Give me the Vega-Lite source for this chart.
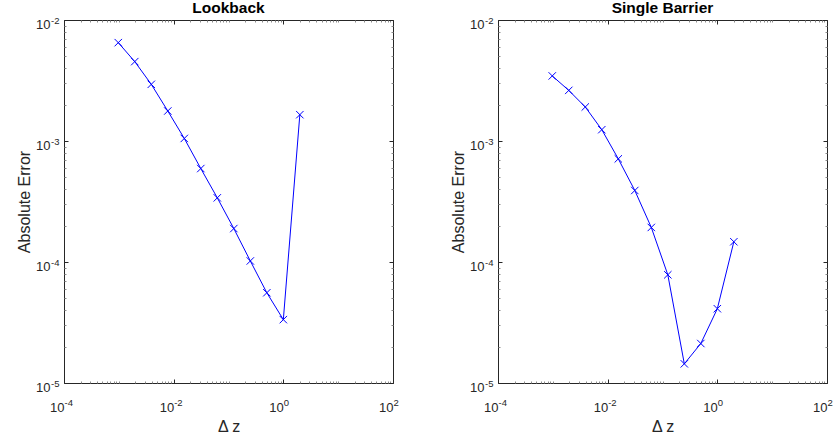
{
  "$schema": "https://vega.github.io/schema/vega-lite/v6.json",
  "background": "white",
  "padding": {"left": 16, "top": 0, "right": 0, "bottom": 0},
  "spacing": 51,
  "data": {"values": [
    {"panel": "Lookback", "dz": 0.0009765625, "err": 0.0065},
    {"panel": "Lookback", "dz": 0.001953125, "err": 0.00453},
    {"panel": "Lookback", "dz": 0.00390625, "err": 0.00294},
    {"panel": "Lookback", "dz": 0.0078125, "err": 0.00177},
    {"panel": "Lookback", "dz": 0.015625, "err": 0.00105},
    {"panel": "Lookback", "dz": 0.03125, "err": 0.000592},
    {"panel": "Lookback", "dz": 0.0625, "err": 0.000339},
    {"panel": "Lookback", "dz": 0.125, "err": 0.000189},
    {"panel": "Lookback", "dz": 0.25, "err": 0.000102},
    {"panel": "Lookback", "dz": 0.5, "err": 0.0000557},
    {"panel": "Lookback", "dz": 1, "err": 0.0000334},
    {"panel": "Lookback", "dz": 2, "err": 0.00165},
    {"panel": "Single Barrier", "dz": 0.0009765625, "err": 0.00345},
    {"panel": "Single Barrier", "dz": 0.001953125, "err": 0.00262},
    {"panel": "Single Barrier", "dz": 0.00390625, "err": 0.00191},
    {"panel": "Single Barrier", "dz": 0.0078125, "err": 0.00124},
    {"panel": "Single Barrier", "dz": 0.015625, "err": 0.000712},
    {"panel": "Single Barrier", "dz": 0.03125, "err": 0.00039},
    {"panel": "Single Barrier", "dz": 0.0625, "err": 0.000193},
    {"panel": "Single Barrier", "dz": 0.125, "err": 0.0000784},
    {"panel": "Single Barrier", "dz": 0.25, "err": 0.0000144},
    {"panel": "Single Barrier", "dz": 0.5, "err": 0.0000212},
    {"panel": "Single Barrier", "dz": 1, "err": 0.0000411},
    {"panel": "Single Barrier", "dz": 2, "err": 0.000147}
  ]},
  "config": {
    "font": "Liberation Sans",
    "view": {"stroke": "#262626", "strokeWidth": 1},
    "axis": {
      "grid": false,
      "domain": false,
      "labelOverlap": false,
      "labelFlush": false,
      "labelBound": false,
      "tickColor": "#262626",
      "labelColor": "#262626",
      "titleColor": "#262626",
      "labelFont": "Liberation Sans",
      "titleFont": "Liberation Sans",
      "labelFontSize": 13,
      "titleFontSize": 16,
      "titleFontWeight": "normal"
    },
    "title": {"font": "Liberation Sans", "fontSize": 15.5, "fontWeight": "bold", "color": "black", "baseline": "alphabetic", "offset": -1}
  },
  "hconcat": [
    {
      "title": "Lookback",
      "width": 329,
      "height": 363,
      "transform": [{"filter": "datum.panel == 'Lookback'"}],
      "resolve": {"axis": {"x": "independent", "y": "independent"}},
      "layer": [
        {
          "mark": {"type": "line", "color": "#0000FF", "strokeWidth": 1},
          "encoding": {
            "x": {"field": "dz", "type": "quantitative", "scale": {"type": "log", "domain": [0.0001, 100], "nice": false},
                  "axis": {"orient": "bottom", "title": "Δ z", "titlePadding": 4, "ticks": false,
                           "values": [0.0001, 0.01, 1, 100],
                           "labelAlign": "right", "labelBaseline": "alphabetic", "labelPadding": 28, "labelExpr": "'10'"}},
            "y": {"field": "err", "type": "quantitative", "scale": {"type": "log", "domain": [0.00001, 0.01], "nice": false},
                  "axis": {"orient": "left", "title": "Absolute Error", "titlePadding": 3, "ticks": false,
                           "values": [0.00001, 0.0001, 0.001, 0.01],
                           "labelAlign": "right", "labelBaseline": "alphabetic", "labelPadding": 14, "labelOffset": 8.5, "labelExpr": "'10'"}}
          }
        },
        {
          "mark": {"type": "point", "shape": "M-1,-1L1,1M-1,1L1,-1", "filled": false, "color": "#0000FF", "size": 55, "strokeWidth": 1, "opacity": 1},
          "encoding": {
            "x": {"field": "dz", "type": "quantitative",
                  "axis": {"orient": "bottom", "title": null, "ticks": false, "values": [0.0001, 0.01, 1, 100],
                           "labelAlign": "left", "labelBaseline": "alphabetic", "labelPadding": 22, "labelFontSize": 9.5,
                           "labelExpr": "'' + round(log(datum.value)/LN10)"}},
            "y": {"field": "err", "type": "quantitative",
                  "axis": {"orient": "left", "title": null, "ticks": false, "values": [0.00001, 0.0001, 0.001, 0.01],
                           "labelAlign": "right", "labelBaseline": "alphabetic", "labelPadding": 5, "labelOffset": 3.5, "labelFontSize": 9.5,
                           "labelExpr": "'' + round(log(datum.value)/LN10)"}}
          }
        },
        {
          "mark": {"type": "line", "opacity": 0},
          "encoding": {
            "x": {"field": "dz", "type": "quantitative",
                  "axis": {"orient": "top", "title": null, "labels": false,
                           "values": [0.0001,0.0002,0.0003,0.0004,0.0005,0.0006,0.0007,0.0008,0.0009,0.001,0.002,0.003,0.004,0.005,0.006,0.007,0.008,0.009,0.01,0.02,0.03,0.04,0.05,0.06,0.07,0.08,0.09,0.1,0.2,0.3,0.4,0.5,0.6,0.7,0.8,0.9,1,2,3,4,5,6,7,8,9,10,20,30,40,50,60,70,80,90,100],
                           "tickSize": {"condition": {"test": "abs(log(datum.value)/LN10 - round(log(datum.value)/LN10)) < 0.001 && round(log(datum.value)/LN10) % 2 == 0", "value": -4}, "value": -2},
                           "tickColor": {"condition": {"test": "abs(log(datum.value)/LN10 - round(log(datum.value)/LN10)) < 0.001 && round(log(datum.value)/LN10) % 2 == 0", "value": "#262626"}, "value": "#8c8c8c"}}},
            "y": {"field": "err", "type": "quantitative",
                  "axis": {"orient": "right", "title": null, "labels": false,
                           "values": [0.00001,0.00002,0.00003,0.00004,0.00005,0.00006,0.00007,0.00008,0.00009,0.0001,0.0002,0.0003,0.0004,0.0005,0.0006,0.0007,0.0008,0.0009,0.001,0.002,0.003,0.004,0.005,0.006,0.007,0.008,0.009,0.01],
                           "tickSize": {"condition": {"test": "abs(log(datum.value)/LN10 - round(log(datum.value)/LN10)) < 0.001", "value": -4}, "value": -2},
                           "tickColor": {"condition": {"test": "abs(log(datum.value)/LN10 - round(log(datum.value)/LN10)) < 0.001", "value": "#262626"}, "value": "#8c8c8c"}}}
          }
        },
        {
          "mark": {"type": "line", "opacity": 0},
          "encoding": {
            "x": {"field": "dz", "type": "quantitative",
                  "axis": {"orient": "bottom", "title": null, "labels": false,
                           "values": [0.0001,0.0002,0.0003,0.0004,0.0005,0.0006,0.0007,0.0008,0.0009,0.001,0.002,0.003,0.004,0.005,0.006,0.007,0.008,0.009,0.01,0.02,0.03,0.04,0.05,0.06,0.07,0.08,0.09,0.1,0.2,0.3,0.4,0.5,0.6,0.7,0.8,0.9,1,2,3,4,5,6,7,8,9,10,20,30,40,50,60,70,80,90,100],
                           "tickSize": {"condition": {"test": "abs(log(datum.value)/LN10 - round(log(datum.value)/LN10)) < 0.001 && round(log(datum.value)/LN10) % 2 == 0", "value": -4}, "value": -2},
                           "tickColor": {"condition": {"test": "abs(log(datum.value)/LN10 - round(log(datum.value)/LN10)) < 0.001 && round(log(datum.value)/LN10) % 2 == 0", "value": "#262626"}, "value": "#8c8c8c"}}},
            "y": {"field": "err", "type": "quantitative",
                  "axis": {"orient": "left", "title": null, "labels": false,
                           "values": [0.00001,0.00002,0.00003,0.00004,0.00005,0.00006,0.00007,0.00008,0.00009,0.0001,0.0002,0.0003,0.0004,0.0005,0.0006,0.0007,0.0008,0.0009,0.001,0.002,0.003,0.004,0.005,0.006,0.007,0.008,0.009,0.01],
                           "tickSize": {"condition": {"test": "abs(log(datum.value)/LN10 - round(log(datum.value)/LN10)) < 0.001", "value": -4}, "value": -2},
                           "tickColor": {"condition": {"test": "abs(log(datum.value)/LN10 - round(log(datum.value)/LN10)) < 0.001", "value": "#262626"}, "value": "#8c8c8c"}}}
          }
        }
      ]
    },
    {
      "title": "Single Barrier",
      "width": 329,
      "height": 363,
      "transform": [{"filter": "datum.panel == 'Single Barrier'"}],
      "resolve": {"axis": {"x": "independent", "y": "independent"}},
      "layer": [
        {
          "mark": {"type": "line", "color": "#0000FF", "strokeWidth": 1},
          "encoding": {
            "x": {"field": "dz", "type": "quantitative", "scale": {"type": "log", "domain": [0.0001, 100], "nice": false},
                  "axis": {"orient": "bottom", "title": "Δ z", "titlePadding": 4, "ticks": false,
                           "values": [0.0001, 0.01, 1, 100],
                           "labelAlign": "right", "labelBaseline": "alphabetic", "labelPadding": 28, "labelExpr": "'10'"}},
            "y": {"field": "err", "type": "quantitative", "scale": {"type": "log", "domain": [0.00001, 0.01], "nice": false},
                  "axis": {"orient": "left", "title": "Absolute Error", "titlePadding": 3, "ticks": false,
                           "values": [0.00001, 0.0001, 0.001, 0.01],
                           "labelAlign": "right", "labelBaseline": "alphabetic", "labelPadding": 14, "labelOffset": 8.5, "labelExpr": "'10'"}}
          }
        },
        {
          "mark": {"type": "point", "shape": "M-1,-1L1,1M-1,1L1,-1", "filled": false, "color": "#0000FF", "size": 55, "strokeWidth": 1, "opacity": 1},
          "encoding": {
            "x": {"field": "dz", "type": "quantitative",
                  "axis": {"orient": "bottom", "title": null, "ticks": false, "values": [0.0001, 0.01, 1, 100],
                           "labelAlign": "left", "labelBaseline": "alphabetic", "labelPadding": 22, "labelFontSize": 9.5,
                           "labelExpr": "'' + round(log(datum.value)/LN10)"}},
            "y": {"field": "err", "type": "quantitative",
                  "axis": {"orient": "left", "title": null, "ticks": false, "values": [0.00001, 0.0001, 0.001, 0.01],
                           "labelAlign": "right", "labelBaseline": "alphabetic", "labelPadding": 5, "labelOffset": 3.5, "labelFontSize": 9.5,
                           "labelExpr": "'' + round(log(datum.value)/LN10)"}}
          }
        },
        {
          "mark": {"type": "line", "opacity": 0},
          "encoding": {
            "x": {"field": "dz", "type": "quantitative",
                  "axis": {"orient": "top", "title": null, "labels": false,
                           "values": [0.0001,0.0002,0.0003,0.0004,0.0005,0.0006,0.0007,0.0008,0.0009,0.001,0.002,0.003,0.004,0.005,0.006,0.007,0.008,0.009,0.01,0.02,0.03,0.04,0.05,0.06,0.07,0.08,0.09,0.1,0.2,0.3,0.4,0.5,0.6,0.7,0.8,0.9,1,2,3,4,5,6,7,8,9,10,20,30,40,50,60,70,80,90,100],
                           "tickSize": {"condition": {"test": "abs(log(datum.value)/LN10 - round(log(datum.value)/LN10)) < 0.001 && round(log(datum.value)/LN10) % 2 == 0", "value": -4}, "value": -2},
                           "tickColor": {"condition": {"test": "abs(log(datum.value)/LN10 - round(log(datum.value)/LN10)) < 0.001 && round(log(datum.value)/LN10) % 2 == 0", "value": "#262626"}, "value": "#8c8c8c"}}},
            "y": {"field": "err", "type": "quantitative",
                  "axis": {"orient": "right", "title": null, "labels": false,
                           "values": [0.00001,0.00002,0.00003,0.00004,0.00005,0.00006,0.00007,0.00008,0.00009,0.0001,0.0002,0.0003,0.0004,0.0005,0.0006,0.0007,0.0008,0.0009,0.001,0.002,0.003,0.004,0.005,0.006,0.007,0.008,0.009,0.01],
                           "tickSize": {"condition": {"test": "abs(log(datum.value)/LN10 - round(log(datum.value)/LN10)) < 0.001", "value": -4}, "value": -2},
                           "tickColor": {"condition": {"test": "abs(log(datum.value)/LN10 - round(log(datum.value)/LN10)) < 0.001", "value": "#262626"}, "value": "#8c8c8c"}}}
          }
        },
        {
          "mark": {"type": "line", "opacity": 0},
          "encoding": {
            "x": {"field": "dz", "type": "quantitative",
                  "axis": {"orient": "bottom", "title": null, "labels": false,
                           "values": [0.0001,0.0002,0.0003,0.0004,0.0005,0.0006,0.0007,0.0008,0.0009,0.001,0.002,0.003,0.004,0.005,0.006,0.007,0.008,0.009,0.01,0.02,0.03,0.04,0.05,0.06,0.07,0.08,0.09,0.1,0.2,0.3,0.4,0.5,0.6,0.7,0.8,0.9,1,2,3,4,5,6,7,8,9,10,20,30,40,50,60,70,80,90,100],
                           "tickSize": {"condition": {"test": "abs(log(datum.value)/LN10 - round(log(datum.value)/LN10)) < 0.001 && round(log(datum.value)/LN10) % 2 == 0", "value": -4}, "value": -2},
                           "tickColor": {"condition": {"test": "abs(log(datum.value)/LN10 - round(log(datum.value)/LN10)) < 0.001 && round(log(datum.value)/LN10) % 2 == 0", "value": "#262626"}, "value": "#8c8c8c"}}},
            "y": {"field": "err", "type": "quantitative",
                  "axis": {"orient": "left", "title": null, "labels": false,
                           "values": [0.00001,0.00002,0.00003,0.00004,0.00005,0.00006,0.00007,0.00008,0.00009,0.0001,0.0002,0.0003,0.0004,0.0005,0.0006,0.0007,0.0008,0.0009,0.001,0.002,0.003,0.004,0.005,0.006,0.007,0.008,0.009,0.01],
                           "tickSize": {"condition": {"test": "abs(log(datum.value)/LN10 - round(log(datum.value)/LN10)) < 0.001", "value": -4}, "value": -2},
                           "tickColor": {"condition": {"test": "abs(log(datum.value)/LN10 - round(log(datum.value)/LN10)) < 0.001", "value": "#262626"}, "value": "#8c8c8c"}}}
          }
        }
      ]
    }
  ]
}
